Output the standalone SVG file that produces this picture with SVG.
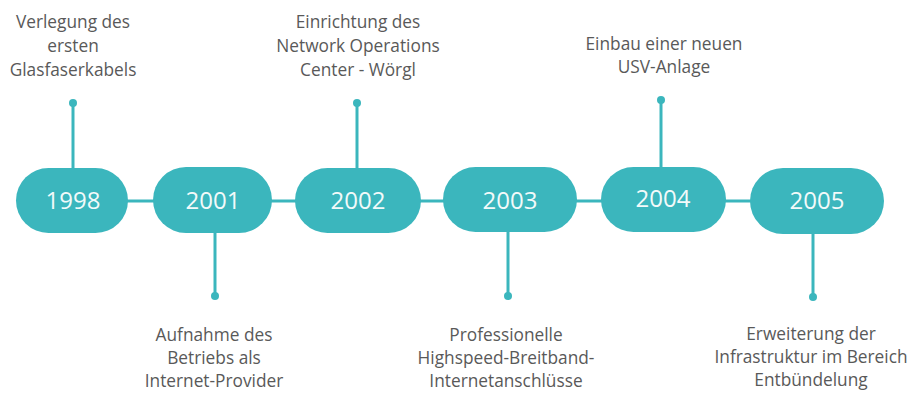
<svg xmlns="http://www.w3.org/2000/svg" width="912" height="393" viewBox="0 0 912 393">
<style>
.pill{fill:#3bb6bd}
.yr{font-family:"Open Sans","Noto Sans",sans-serif;font-size:24px;fill:#f2fafa;text-anchor:middle}
.lbl{font-family:"Open Sans","Noto Sans",sans-serif;font-size:17.3px;fill:#595959;text-anchor:middle}
.ln{stroke:#3bb6bd;stroke-width:3;fill:none}
.dot{fill:#3bb6bd}
</style>
<rect width="912" height="393" fill="#ffffff"/>
<g id="connectors">
<line class="ln" x1="72" y1="201" x2="817" y2="201"/>
<line class="ln" x1="73" y1="103" x2="73" y2="170"/>
<circle class="dot" cx="73" cy="103" r="4"/>
<line class="ln" x1="357" y1="103" x2="357" y2="170"/>
<circle class="dot" cx="357" cy="103" r="4"/>
<line class="ln" x1="661" y1="100" x2="661" y2="170"/>
<circle class="dot" cx="661" cy="100" r="4"/>
<line class="ln" x1="215" y1="230" x2="215" y2="296"/>
<circle class="dot" cx="215" cy="296" r="4"/>
<line class="ln" x1="508" y1="230" x2="508" y2="296"/>
<circle class="dot" cx="508" cy="296" r="4"/>
<line class="ln" x1="813" y1="232" x2="813" y2="297"/>
<circle class="dot" cx="813" cy="297" r="4"/>
</g>
<g id="n1998">
<rect class="pill" x="16" y="168" width="112" height="65" rx="32.5"/>
<text class="yr" x="73" y="209">1998</text>
<text class="lbl" x="73" y="28">Verlegung des</text>
<text class="lbl" x="73" y="52">ersten</text>
<text class="lbl" x="73" y="76">Glasfaserkabels</text>
</g>
<g id="n2001">
<rect class="pill" x="153" y="167" width="119" height="66" rx="33"/>
<text class="yr" x="213" y="209">2001</text>
<text class="lbl" x="214" y="341">Aufnahme des</text>
<text class="lbl" x="214" y="364">Betriebs als</text>
<text class="lbl" x="214" y="387">Internet-Provider</text>
</g>
<g id="n2002">
<rect class="pill" x="295" y="168" width="126" height="65" rx="32.5"/>
<text class="yr" x="358" y="209">2002</text>
<text class="lbl" x="358" y="28">Einrichtung des</text>
<text class="lbl" x="358" y="52">Network Operations</text>
<text class="lbl" x="358" y="76">Center - Wörgl</text>
</g>
<g id="n2003">
<rect class="pill" x="443" y="167" width="134" height="65" rx="32.5"/>
<text class="yr" x="510" y="209">2003</text>
<text class="lbl" x="506" y="341">Professionelle</text>
<text class="lbl" x="506" y="364">Highspeed-Breitband-</text>
<text class="lbl" x="506" y="387">Internetanschlüsse</text>
</g>
<g id="n2004">
<rect class="pill" x="601" y="167" width="125" height="65" rx="32.5"/>
<text class="yr" x="663" y="207">2004</text>
<text class="lbl" x="664" y="50">Einbau einer neuen</text>
<text class="lbl" x="664" y="73">USV-Anlage</text>
</g>
<g id="n2005">
<rect class="pill" x="750" y="168" width="134" height="66" rx="33"/>
<text class="yr" x="817" y="209">2005</text>
<text class="lbl" x="811" y="340">Erweiterung der</text>
<text class="lbl" x="811" y="363">Infrastruktur im Bereich</text>
<text class="lbl" x="811" y="386">Entbündelung</text>
</g>
</svg>
